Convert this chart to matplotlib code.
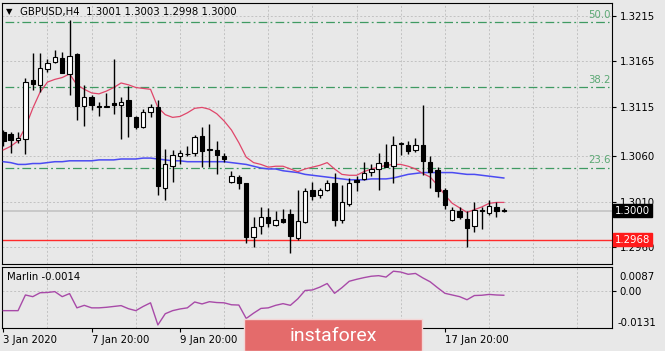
import matplotlib
matplotlib.use("Agg")
import matplotlib.pyplot as plt
from matplotlib.patches import Rectangle
import numpy as np

# GBPUSD H4 bars, 3 Jan 2020 20:00 .. 21 Jan 04:00
opens = [1.3087, 1.3085, 1.3078, 1.3079, 1.3144, 1.3139, 1.3156, 1.3164, 1.3169, 1.3151,
         1.3173, 1.3116, 1.3125, 1.3116, 1.3115, 1.3119, 1.3117, 1.3122, 1.3103, 1.3092,
         1.3109, 1.3114, 1.3025, 1.3049, 1.3060, 1.3062, 1.3064, 1.3082, 1.3067, 1.3067,
         1.3060, 1.3032, 1.3037, 1.3031, 1.2971, 1.2983, 1.2993, 1.2984, 1.2991, 1.2996,
         1.2970, 1.2987, 1.3023, 1.3017, 1.3023, 1.3031, 1.2990, 1.3007, 1.3034, 1.3035,
         1.3043, 1.3046, 1.3054, 1.3049, 1.3074, 1.3073, 1.3067, 1.3073, 1.3054, 1.3045,
         1.3023, 1.2990, 1.2999, 1.2991, 1.2983, 1.3001, 1.2997, 1.3004, 1.3001]
highs = [1.3089, 1.3087, 1.3087, 1.3146, 1.3174, 1.3174, 1.3167, 1.3177, 1.3175, 1.3211,
         1.3174, 1.3139, 1.3128, 1.3120, 1.3130, 1.3168, 1.3125, 1.3138, 1.3104, 1.3112,
         1.3118, 1.3122, 1.3068, 1.3067, 1.3067, 1.3071, 1.3084, 1.3092, 1.3096, 1.3077,
         1.3064, 1.3044, 1.3039, 1.3031, 1.2993, 1.3004, 1.3003, 1.3000, 1.3002, 1.3002,
         1.3023, 1.3025, 1.3032, 1.3025, 1.3034, 1.3041, 1.3028, 1.3036, 1.3038, 1.3054,
         1.3051, 1.3064, 1.3074, 1.3082, 1.3076, 1.3077, 1.3080, 1.3117, 1.3060, 1.3048,
         1.3025, 1.3004, 1.3004, 1.2999, 1.3009, 1.3004, 1.3012, 1.3009, 1.3003]
lows = [1.3071, 1.3064, 1.3075, 1.3063, 1.3133, 1.3131, 1.3153, 1.3163, 1.3152, 1.3128,
        1.3100, 1.3093, 1.3111, 1.3104, 1.3114, 1.3107, 1.3079, 1.3081, 1.3090, 1.3091,
        1.3103, 1.3017, 1.3012, 1.3032, 1.3052, 1.3060, 1.3060, 1.3048, 1.3048, 1.3040,
        1.3054, 1.3030, 1.3024, 1.2964, 1.2960, 1.2974, 1.2982, 1.2983, 1.2986, 1.2953,
        1.2967, 1.2986, 1.3012, 1.3014, 1.3022, 1.2983, 1.2986, 1.3005, 1.3022, 1.3034,
        1.3038, 1.3023, 1.3048, 1.3030, 1.3061, 1.3063, 1.3065, 1.3039, 1.3025, 1.3015,
        1.3002, 1.2989, 1.2991, 1.2960, 1.2976, 1.2980, 1.2995, 1.2993, 1.2998]
closes = [1.3077, 1.3078, 1.3080, 1.3142, 1.3140, 1.3158, 1.3163, 1.3170, 1.3152, 1.3171,
          1.3116, 1.3126, 1.3117, 1.3114, 1.3115, 1.3117, 1.3120, 1.3104, 1.3092, 1.3109,
          1.3115, 1.3027, 1.3051, 1.3061, 1.3064, 1.3063, 1.3081, 1.3066, 1.3068, 1.3061,
          1.3057, 1.3038, 1.3031, 1.2971, 1.2982, 1.2993, 1.2986, 1.2990, 1.2987, 1.2972,
          1.2989, 1.3022, 1.3016, 1.3023, 1.3031, 1.2990, 1.3009, 1.3031, 1.3032, 1.3042,
          1.3046, 1.3053, 1.3048, 1.3072, 1.3074, 1.3066, 1.3073, 1.3055, 1.3043, 1.3022,
          1.3006, 1.3001, 1.2993, 1.2981, 1.3001, 1.2999, 1.3005, 1.2999, 1.3000]

ma_fast = [1.3067, 1.3071, 1.3077, 1.3092, 1.3113, 1.3131, 1.3142, 1.3145, 1.3147, 1.3151,
           1.3139, 1.3134, 1.3130, 1.3129, 1.3132, 1.3136, 1.3141, 1.3139, 1.3136, 1.3135,
           1.3134, 1.3114, 1.3106, 1.3103, 1.3104, 1.3108, 1.3113, 1.3114, 1.3112, 1.3107,
           1.3099, 1.3089, 1.3075, 1.3059, 1.3053, 1.3051, 1.3048, 1.3049, 1.3049, 1.3046,
           1.3043, 1.3046, 1.3048, 1.3050, 1.3053, 1.3046, 1.3040, 1.3039, 1.3039, 1.3043,
           1.3046, 1.3048, 1.3050, 1.3051, 1.3051, 1.3049, 1.3046, 1.3041, 1.3037, 1.3028,
           1.3017, 1.3008, 1.3003, 1.2998, 1.3001, 1.3004, 1.3008, 1.3009, 1.3009]
ma_slow = [1.3054, 1.3053, 1.3051, 1.3051, 1.3052, 1.3052, 1.3053, 1.3054, 1.3054, 1.3055,
           1.3055, 1.3055, 1.3055, 1.3056, 1.3056, 1.3056, 1.3057, 1.3057, 1.3057, 1.3058,
           1.3058, 1.3057, 1.3056, 1.3055, 1.3055, 1.3054, 1.3054, 1.3054, 1.3054, 1.3054,
           1.3054, 1.3053, 1.3052, 1.3051, 1.3049, 1.3047, 1.3046, 1.3046, 1.3044, 1.3043,
           1.3042, 1.3040, 1.3039, 1.3038, 1.3037, 1.3036, 1.3035, 1.3034, 1.3034, 1.3034,
           1.3035, 1.3035, 1.3035, 1.3036, 1.3038, 1.3040, 1.3041, 1.3042, 1.3042, 1.3042,
           1.3042, 1.3042, 1.3041, 1.3040, 1.3040, 1.3039, 1.3038, 1.3037, 1.3036]
marlin = [-0.0069, -0.0069, -0.0069, -0.0013, -0.0019, -0.0005, -0.0004, -0.0001, -0.0019, -0.0008,
          -0.0059, -0.0050, -0.0059, -0.0059, -0.0057, -0.0054, -0.0051, -0.0062, -0.0069, -0.0054,
          -0.0041, -0.0120, -0.0080, -0.0069, -0.0063, -0.0059, -0.0038, -0.0045, -0.0037, -0.0040,
          -0.0041, -0.0048, -0.0049, -0.0097, -0.0078, -0.0061, -0.0059, -0.0050, -0.0044, -0.0050,
          -0.0027, 0.0003, 0.0005, 0.0015, 0.0028, -0.0007, 0.0013, 0.0036, 0.0043, 0.0049,
          0.0054, 0.0056, 0.0051, 0.0072, 0.0069, 0.0061, 0.0064, 0.0048, 0.0034, 0.0013,
          -0.0007, -0.0013, -0.0019, -0.0030, -0.0015, -0.0014, -0.0011, -0.0013, -0.0014]

fib_levels = [1.3208, 1.31365, 1.30474]
fib_names = ["50.0", "38.2", "23.6"]
support = 1.2968
bid = 1.3000
price_ticks = [1.3215, 1.3165, 1.3115, 1.3060, 1.3010, 1.2960]
# labels at 36 and 48 sit under the watermark, so they are not shown
time_ticks = [0, 12, 24, 36, 48, 60]
time_labels = ["3 Jan 2020", "7 Jan 20:00", "9 Jan 20:00", "", "", "17 Jan 20:00"]

BG = "#e8e8e8"
GRID = "#c2c2c2"
FS = 7.3
W, H = 665, 351

def fx(px):
    return px / W

def fy(py):
    return 1 - py / H

fig = plt.figure(figsize=(W / 100, H / 100), dpi=100, facecolor=BG)
ax = fig.add_axes([fx(2), fy(263.5), (612 - 2) / W, (263.5 - 3) / H])
ax2 = fig.add_axes([fx(2), fy(328), (612 - 2) / W, (328 - 267) / H], sharex=ax)

for a in (ax, ax2):
    a.set_facecolor(BG)
    for s in a.spines.values():
        s.set_color("black")
        s.set_linewidth(0.8)

x = np.arange(len(opens))
o = np.array(opens); c = np.array(closes)
ax.set_xlim(-0.18, 82.7)
ax.set_ylim(1.29415, 1.32294)

# grid
for p in price_ticks:
    ax.axhline(p, color=GRID, lw=0.7, dashes=(2, 2), zorder=1)
for g in range(6, 83, 6):
    ax.axvline(g, color=GRID, lw=0.7, dashes=(2, 2), zorder=1)

ax.axhline(bid, color="#c6c6c6", lw=1.3, zorder=1)
ax.axhline(support, color="#ff2a2a", lw=1.0, zorder=2)

for lev, name in zip(fib_levels, fib_names):
    ax.hlines(lev, 0.25, 82.3, color="#3f9a62", lw=0.9,
              linestyles=[(0, (7, 2.5, 1.5, 2.5))], zorder=2)
    ax.text(82.5, lev + 0.00025, name, ha="right", va="bottom", fontsize=FS, color="#5aa873")

ax.plot(x, ma_slow, color="#4b4bf2", lw=1.1, zorder=3)
ax.plot(x, ma_fast, color="#e0466a", lw=0.9, zorder=3)

# candles
ax.vlines(x, lows, highs, color="black", lw=1.0, zorder=4)
bottoms = np.minimum(o, c)
heights = np.maximum(np.abs(c - o), 0.00004)
faces = ["white" if cl >= op else "black" for op, cl in zip(opens, closes)]
ax.bar(x, heights, bottom=bottoms, width=0.6, color=faces, edgecolor="black", lw=0.8, zorder=5)

ax.set_yticks(price_ticks, labels=[f"{p:.4f}" for p in price_ticks])
ax.tick_params(axis="y", right=True, left=False, labelright=True, labelleft=False,
               length=3, width=0.8, pad=2.5, labelsize=FS, colors="black")
ax.tick_params(axis="x", bottom=False, labelbottom=False)

ax.annotate(f"{bid:.4f}", xy=(1, bid), xycoords=("axes fraction", "data"),
            xytext=(3, 0), textcoords="offset pixels", ha="left", va="center",
            fontsize=FS, color="white", annotation_clip=False, zorder=10,
            bbox=dict(boxstyle="square,pad=0.18", fc="black", ec="black"))
ax.annotate(f"{support:.4f}", xy=(1, support), xycoords=("axes fraction", "data"),
            xytext=(3, 0), textcoords="offset pixels", ha="left", va="center",
            fontsize=FS, color="white", annotation_clip=False, zorder=10,
            bbox=dict(boxstyle="square,pad=0.18", fc="#ff1a1a", ec="#ff1a1a"))

fig.text(fx(9), fy(12), "\u25bc", fontsize=6, ha="center", va="center", color="black")
fig.text(fx(20), fy(12), f"GBPUSD,H4  {opens[-1]:.4f} {highs[-1]:.4f} {lows[-1]:.4f} {closes[-1]:.4f}",
         fontsize=FS, ha="left", va="center", color="black")

# Marlin panel
ax2.set_ylim(-0.0131, 0.0087)
ax2.axhline(0, color=GRID, lw=0.7, dashes=(2, 2), zorder=1)
for g in range(6, 83, 12):
    ax2.axvline(g, color=GRID, lw=0.7, dashes=(2, 2), zorder=1)
ax2.plot(x, marlin, color="#a84aa8", lw=1.0, zorder=3)
ax2.text(0.008, 0.84, f"Marlin {marlin[-1]:.4f}", transform=ax2.transAxes,
         fontsize=FS, ha="left", va="center", color="black")

ax2.set_yticks([0], labels=["0.00"])
ax2.tick_params(axis="y", right=True, left=False, labelright=True, labelleft=False,
                length=3, width=0.8, pad=2.5, labelsize=FS)
ax2.annotate("0.0087", xy=(1, 0.0087), xycoords=("axes fraction", "data"),
             xytext=(7, -10), textcoords="offset pixels", ha="left", va="center",
             fontsize=FS, annotation_clip=False)
ax2.annotate("-0.0131", xy=(1, -0.0131), xycoords=("axes fraction", "data"),
             xytext=(5, 5), textcoords="offset pixels", ha="left", va="center",
             fontsize=FS, annotation_clip=False)

ax2.set_xticks(time_ticks, labels=time_labels)
ax2.tick_params(axis="x", bottom=True, length=3, width=0.8, pad=2, labelsize=FS)
for lab in ax2.get_xticklabels():
    lab.set_ha("left")

# watermark
fig.patches.append(Rectangle((fx(244), 0), 178 / W, 32 / H, transform=fig.transFigure,
                             facecolor="#e46b6b", edgecolor="#f3d6d6", lw=1, zorder=5))
fig.text(fx(333), fy(336), "instaforex", fontsize=14, family="Roboto", color="white",
         ha="center", va="center", zorder=6)

fig.savefig("out.png", dpi=100, facecolor=BG)
